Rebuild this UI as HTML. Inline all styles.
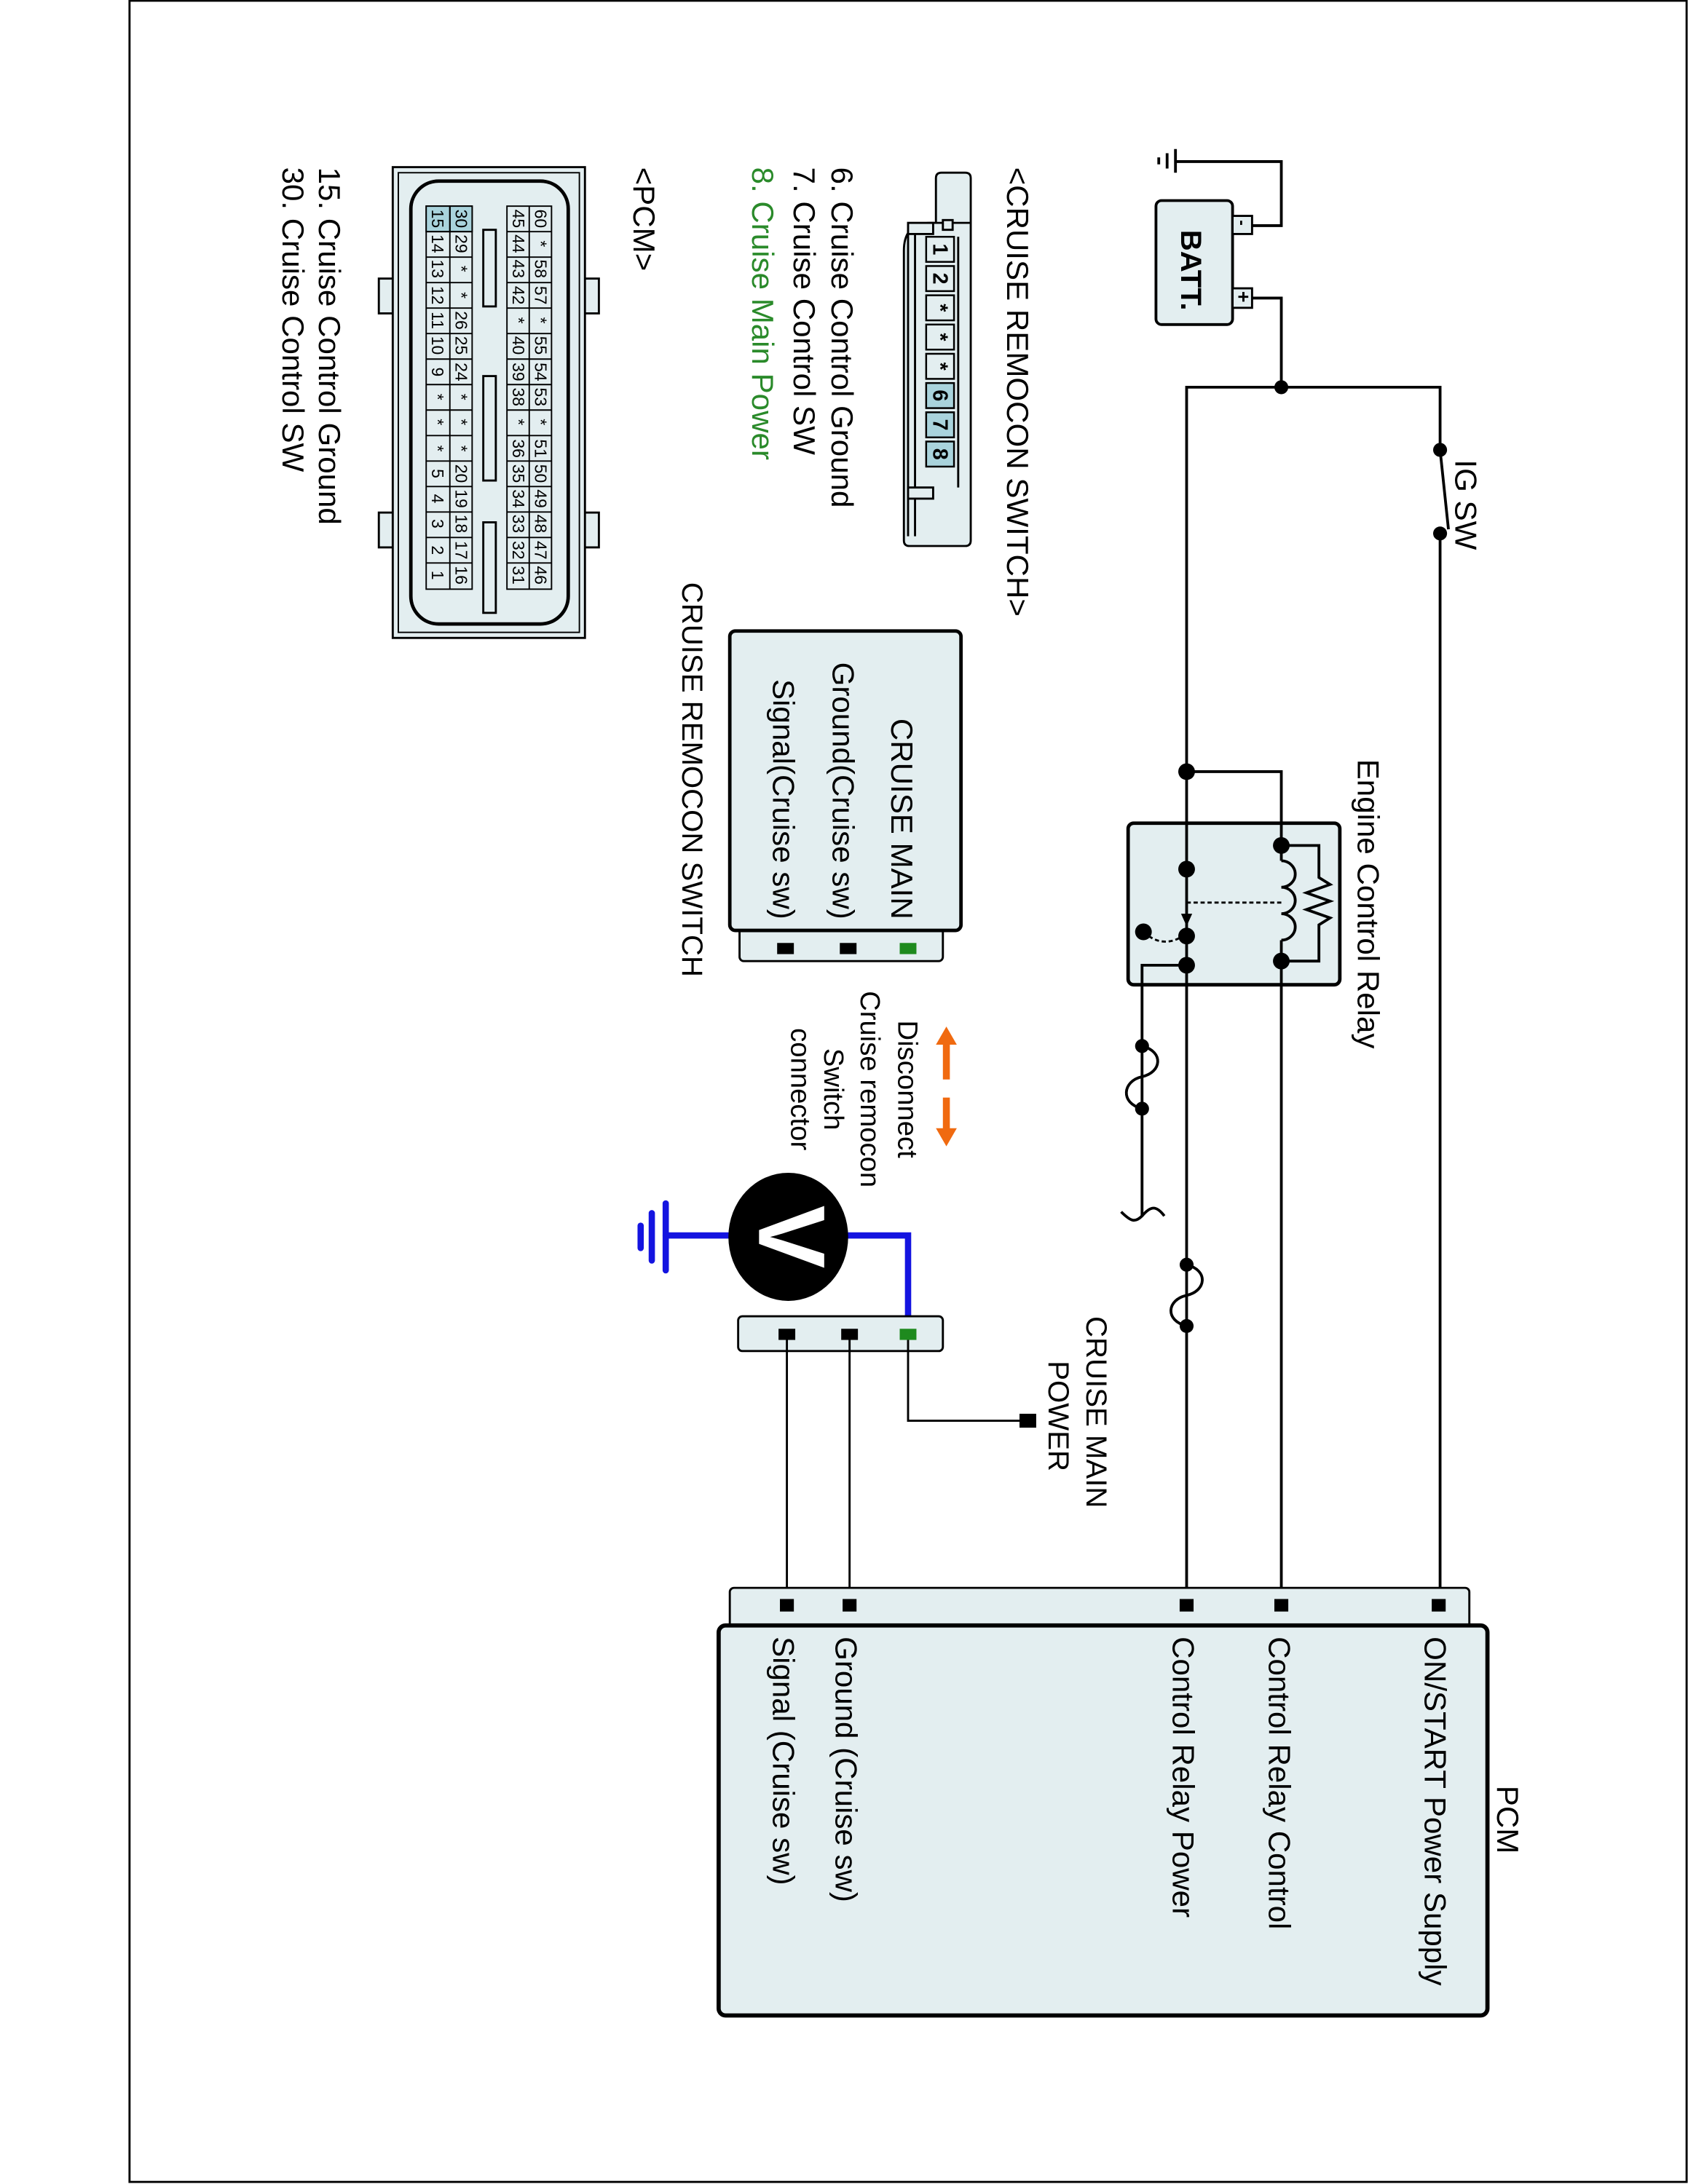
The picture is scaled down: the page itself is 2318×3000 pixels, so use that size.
<!DOCTYPE html>
<html><head><meta charset="utf-8"><style>
html,body{margin:0;padding:0;background:#fff}
svg{display:block}
text{font-family:"Liberation Sans",Arial,sans-serif;fill:#000}
</style></head><body>
<svg width="2318" height="3000" viewBox="0 0 1212 1568" preserveAspectRatio="none" xmlns="http://www.w3.org/2000/svg">
<rect x="0" y="0" width="1212" height="1568" fill="#fff"/>
<rect x="93" y="0.5" width="1118" height="1566" fill="none" stroke="#000" stroke-width="1.5"/>

<!-- Labels upper-left -->
<g font-size="22">
<text transform="translate(723,120) rotate(90)">&lt;CRUISE REMOCON SWITCH&gt;</text>
<text transform="translate(597,120) rotate(90)">6. Cruise Control Ground</text>
<text transform="translate(570,120) rotate(90)">7. Cruise Control SW</text>
<text transform="translate(540,120) rotate(90)" style="fill:#2a8a2a">8. Cruise Main Power</text>
<text transform="translate(455,120) rotate(90)">&lt;PCM&gt;</text>
<text transform="translate(229,120) rotate(90)">15. Cruise Control Ground</text>
<text transform="translate(203,120) rotate(90)">30. Cruise Control SW</text>
</g>

<!-- Cruise remocon connector -->
<g stroke="#000" stroke-width="1.5" fill="#e3eef0">
<path d="M697,128 L697,388 Q697,392 693,392 L653,392 Q649,392 649,388 L649,180 Q649,160 668,160 L672,160 L672,128 Q672,124 676,124 L693,124 Q697,124 697,128 Z"/>
<line x1="672" y1="160" x2="697" y2="160"/>
<line x1="652" y1="165" x2="652" y2="385" />
<line x1="657" y1="165" x2="657" y2="385" />
<rect x="652" y="160" width="18" height="8"/>
<rect x="652" y="350" width="18" height="8"/>
<rect x="677" y="158" width="7" height="7"/>
<line x1="688" y1="170" x2="688" y2="350"/>
</g>
<g stroke="#000" stroke-width="1.3">
<rect x="665" y="170" width="20" height="18" fill="#e3eef0"/>
<rect x="665" y="191" width="20" height="18" fill="#e3eef0"/>
<rect x="665" y="212" width="20" height="18" fill="#e3eef0"/>
<rect x="665" y="233" width="20" height="18" fill="#e3eef0"/>
<rect x="665" y="254" width="20" height="18" fill="#e3eef0"/>
<rect x="665" y="275" width="20" height="18" fill="#a9d3dc"/>
<rect x="665" y="296" width="20" height="18" fill="#a9d3dc"/>
<rect x="665" y="317" width="20" height="18" fill="#a9d3dc"/>
</g>
<g font-size="15" text-anchor="middle" font-weight="bold">
<text transform="translate(670,179) rotate(90)">1</text>
<text transform="translate(670,200) rotate(90)">2</text>
<text transform="translate(670,221) rotate(90)">*</text>
<text transform="translate(670,242) rotate(90)">*</text>
<text transform="translate(670,263) rotate(90)">*</text>
<text transform="translate(670,284) rotate(90)">6</text>
<text transform="translate(670,305) rotate(90)">7</text>
<text transform="translate(670,326) rotate(90)">8</text>
</g>

<!-- PCM connector -->
<g stroke="#000" stroke-width="1.5" fill="#e3eef0">
<rect x="272" y="200" width="12" height="25"/>
<rect x="272" y="368" width="12" height="25"/>
<rect x="418" y="200" width="12" height="25"/>
<rect x="418" y="368" width="12" height="25"/>
<rect x="282" y="120" width="138" height="338"/>
<rect x="286" y="124" width="130" height="330" fill="none" stroke-width="1"/>
<rect x="295" y="130" width="113" height="318" rx="20" stroke-width="2.5"/>
<rect x="347" y="165" width="9" height="55"/>
<rect x="347" y="270" width="9" height="75"/>
<rect x="347" y="375" width="9" height="65"/>
</g>

<!-- Battery & ground -->
<g stroke="#000" stroke-width="2" fill="none">
<line x1="844" y1="107" x2="844" y2="124"/>
<line x1="838" y1="110" x2="838" y2="121"/>
<line x1="832" y1="113" x2="832" y2="118"/>
<polyline points="844,116 920,116 920,162 899,162"/>
<polyline points="899,214 920,214 920,278"/>
</g>
<rect x="830" y="144" width="55" height="89" rx="4" fill="#e3eef0" stroke="#000" stroke-width="2"/>
<rect x="885" y="155" width="14" height="13" fill="#e3eef0" stroke="#000" stroke-width="1.5"/>
<rect x="885" y="207" width="14" height="14" fill="#e3eef0" stroke="#000" stroke-width="1.5"/>
<text transform="translate(888,158) rotate(90)" font-size="12" font-weight="bold">-</text>
<text transform="translate(888,209) rotate(90)" font-size="14" font-weight="bold">+</text>
<text transform="translate(848,165) rotate(90)" font-size="21" font-weight="bold">BATT.</text>

<!-- Relay box first so wires are on top -->
<rect x="810" y="591" width="152" height="116" rx="4" fill="#e3eef0" stroke="#000" stroke-width="2.5"/>

<g stroke="#000" stroke-width="2" fill="none">
<polyline points="852,1152 852,278 1034,278 1034,323"/>
<line x1="1034" y1="323" x2="1040" y2="380"/>
<line x1="1034" y1="383" x2="1034" y2="1152"/>
<polyline points="852,554 920,554 920,618"/>
<path d="M920,618 a10,9.5 0 0 1 0,19 a10,9.5 0 0 1 0,19 a10,9.5 0 0 1 0,19"/>
<line x1="920" y1="675" x2="920" y2="1152"/>
<polyline points="920,607 947,607 947,630 955,635 938,641 955,647 938,653 955,659 947,664 947,690 920,690"/>
<polyline points="852,693 820,693 820,873"/>
<path d="M820,751 C836,755 834,770 820,773 C806,776 804,792 820,796"/>
<path d="M805,870 C812,877 815,878 820,873 C826,866 830,865 836,873"/>
<path d="M852,908 C868,912 866,927 852,930 C838,933 836,948 852,952"/>
</g>
<line x1="852" y1="648" x2="920" y2="648" stroke="#000" stroke-width="1.5" stroke-dasharray="3,2"/>
<path d="M821,669 Q835,682 851,671" stroke="#000" stroke-width="1.5" stroke-dasharray="3,2" fill="none"/>
<path d="M848,656 L852,665 L856,656 Z" fill="#000"/>
<g fill="#000">
<circle cx="920" cy="278" r="5"/>
<circle cx="1034" cy="323" r="5"/>
<circle cx="1034" cy="383" r="5"/>
<circle cx="852" cy="554" r="6"/><circle cx="852" cy="624" r="6"/><circle cx="852" cy="672" r="6"/><circle cx="852" cy="693" r="6"/>
<circle cx="821" cy="669" r="6"/><circle cx="920" cy="607" r="6"/><circle cx="920" cy="690" r="6"/>
<circle cx="820" cy="751" r="5"/><circle cx="820" cy="796" r="5"/>
<circle cx="852" cy="908" r="5"/><circle cx="852" cy="952" r="5"/>
</g>
<text transform="translate(1045,330) rotate(90)" font-size="22">IG SW</text>
<text transform="translate(975,545) rotate(90)" font-size="22">Engine Control Relay</text>

<!-- Cruise remocon switch -->
<rect x="531" y="665" width="146" height="25" rx="3" fill="#e3eef0" stroke="#000" stroke-width="1.5"/>
<rect x="524" y="453" width="166" height="215" rx="4" fill="#e3eef0" stroke="#000" stroke-width="2.5"/>
<rect x="646" y="677" width="12" height="8" fill="#1e8a1e"/>
<rect x="603" y="677" width="12" height="8" fill="#000"/>
<rect x="558" y="677" width="12" height="8" fill="#000"/>
<g font-size="22" text-anchor="end">
<text transform="translate(640,660) rotate(90)">CRUISE MAIN</text>
<text transform="translate(598,660) rotate(90)">Ground(Cruise sw)</text>
<text transform="translate(555,660) rotate(90)">Signal(Cruise sw)</text>
</g>
<text transform="translate(490,418) rotate(90)" font-size="21">CRUISE REMOCON SWITCH</text>

<!-- Orange arrows -->
<g fill="#f06a10" stroke="none">
<rect x="677" y="748" width="5" height="27"/>
<path d="M672,750 L679.5,737 L687,750 Z"/>
<rect x="677" y="788" width="5" height="24"/>
<path d="M672,810 L679.5,823 L687,810 Z"/>
</g>
<g font-size="20" text-anchor="middle">
<text transform="translate(645,782) rotate(90)">Disconnect</text>
<text transform="translate(618,782) rotate(90)">Cruise remocon</text>
<text transform="translate(592,782) rotate(90)">Switch</text>
<text transform="translate(568,782) rotate(90)">connector</text>
</g>

<!-- Voltmeter -->
<g stroke="#1414e0" stroke-width="4.5" fill="none" stroke-linecap="round">
<polyline points="605,887 652,887 652,956"/>
<line x1="526" y1="887" x2="478" y2="887"/>
<line x1="478" y1="864" x2="478" y2="912"/>
<line x1="468" y1="871" x2="468" y2="905"/>
<line x1="460" y1="880" x2="460" y2="896"/>
</g>
<ellipse cx="566" cy="888" rx="43" ry="46" fill="#000"/>
<text transform="translate(545,888) rotate(90)" font-size="68" font-weight="bold" text-anchor="middle" style="fill:#fff">V</text>

<!-- lower connector -->
<rect x="530" y="945" width="147" height="25" rx="3" fill="#e3eef0" stroke="#000" stroke-width="1.5"/>
<g stroke="#000" stroke-width="1.5" fill="none">
<polyline points="652,958 652,1020 735,1020"/>
<line x1="610" y1="958" x2="610" y2="1152"/>
<line x1="565" y1="958" x2="565" y2="1152"/>
</g>
<rect x="646" y="954" width="12" height="8" fill="#1e8a1e"/>
<rect x="604" y="954" width="12" height="8" fill="#000"/>
<rect x="559" y="954" width="12" height="8" fill="#000"/>
<rect x="732" y="1015" width="12" height="10" fill="#000"/>
<g font-size="21">
<text transform="translate(780,945) rotate(90)">CRUISE MAIN</text>
<text transform="translate(753,977) rotate(90)">POWER</text>
</g>

<!-- PCM -->
<rect x="524" y="1140" width="531" height="30" rx="3" fill="#e3eef0" stroke="#000" stroke-width="1.5"/>
<rect x="516" y="1167" width="552" height="280" rx="5" fill="#e3eef0" stroke="#000" stroke-width="3"/>
<g fill="#000">
<rect x="1028" y="1148" width="10" height="9"/>
<rect x="915" y="1148" width="10" height="9"/>
<rect x="847" y="1148" width="10" height="9"/>
<rect x="605" y="1148" width="10" height="9"/>
<rect x="560" y="1148" width="10" height="9"/>
</g>
<g font-size="22">
<text transform="translate(1023,1175) rotate(90)">ON/START Power Supply</text>
<text transform="translate(911,1175) rotate(90)">Control Relay Control</text>
<text transform="translate(842,1175) rotate(90)">Control Relay Power</text>
<text transform="translate(600,1175) rotate(90)">Ground (Cruise sw)</text>
<text transform="translate(555,1175) rotate(90)">Signal (Cruise sw)</text>
<text transform="translate(1075,1282) rotate(90)">PCM</text>
</g>

<!-- PCM pin grid -->
<g stroke="#000" stroke-width="1">
<rect x="364" y="148" width="32" height="275" fill="#e3eef0"/>
<rect x="306" y="148" width="33" height="275" fill="#e3eef0"/>
<rect x="323" y="148" width="16" height="18.3" fill="#a9d3dc"/>
<rect x="306" y="148" width="17" height="18.3" fill="#a9d3dc"/>
<line x1="380" y1="148" x2="380" y2="423"/>
<line x1="323" y1="148" x2="323" y2="423"/>
<path d="M364,166.3h32M364,184.6h32M364,202.9h32M364,221.2h32M364,239.5h32M364,257.8h32M364,276.1h32M364,294.4h32M364,312.7h32M364,331h32M364,349.3h32M364,367.6h32M364,385.9h32M364,404.2h32"/>
<path d="M306,166.3h33M306,184.6h33M306,202.9h33M306,221.2h33M306,239.5h33M306,257.8h33M306,276.1h33M306,294.4h33M306,312.7h33M306,331h33M306,349.3h33M306,367.6h33M306,385.9h33M306,404.2h33"/>
</g>
<g font-size="12" text-anchor="middle">
<text transform="translate(384,157) rotate(90)">60</text><text transform="translate(384,175) rotate(90)">*</text><text transform="translate(384,193) rotate(90)">58</text><text transform="translate(384,212) rotate(90)">57</text><text transform="translate(384,230) rotate(90)">*</text><text transform="translate(384,248) rotate(90)">55</text><text transform="translate(384,267) rotate(90)">54</text><text transform="translate(384,285) rotate(90)">53</text><text transform="translate(384,303) rotate(90)">*</text><text transform="translate(384,322) rotate(90)">51</text><text transform="translate(384,340) rotate(90)">50</text><text transform="translate(384,358) rotate(90)">49</text><text transform="translate(384,376) rotate(90)">48</text><text transform="translate(384,395) rotate(90)">47</text><text transform="translate(384,413) rotate(90)">46</text>
<text transform="translate(368,157) rotate(90)">45</text><text transform="translate(368,175) rotate(90)">44</text><text transform="translate(368,193) rotate(90)">43</text><text transform="translate(368,212) rotate(90)">42</text><text transform="translate(368,230) rotate(90)">*</text><text transform="translate(368,248) rotate(90)">40</text><text transform="translate(368,267) rotate(90)">39</text><text transform="translate(368,285) rotate(90)">38</text><text transform="translate(368,303) rotate(90)">*</text><text transform="translate(368,322) rotate(90)">36</text><text transform="translate(368,340) rotate(90)">35</text><text transform="translate(368,358) rotate(90)">34</text><text transform="translate(368,376) rotate(90)">33</text><text transform="translate(368,395) rotate(90)">32</text><text transform="translate(368,413) rotate(90)">31</text>
<text transform="translate(327,157) rotate(90)">30</text><text transform="translate(327,175) rotate(90)">29</text><text transform="translate(327,193) rotate(90)">*</text><text transform="translate(327,212) rotate(90)">*</text><text transform="translate(327,230) rotate(90)">26</text><text transform="translate(327,248) rotate(90)">25</text><text transform="translate(327,267) rotate(90)">24</text><text transform="translate(327,285) rotate(90)">*</text><text transform="translate(327,303) rotate(90)">*</text><text transform="translate(327,322) rotate(90)">*</text><text transform="translate(327,340) rotate(90)">20</text><text transform="translate(327,358) rotate(90)">19</text><text transform="translate(327,376) rotate(90)">18</text><text transform="translate(327,395) rotate(90)">17</text><text transform="translate(327,413) rotate(90)">16</text>
<text transform="translate(310,157) rotate(90)">15</text><text transform="translate(310,175) rotate(90)">14</text><text transform="translate(310,193) rotate(90)">13</text><text transform="translate(310,212) rotate(90)">12</text><text transform="translate(310,230) rotate(90)">11</text><text transform="translate(310,248) rotate(90)">10</text><text transform="translate(310,267) rotate(90)">9</text><text transform="translate(310,285) rotate(90)">*</text><text transform="translate(310,303) rotate(90)">*</text><text transform="translate(310,322) rotate(90)">*</text><text transform="translate(310,340) rotate(90)">5</text><text transform="translate(310,358) rotate(90)">4</text><text transform="translate(310,376) rotate(90)">3</text><text transform="translate(310,395) rotate(90)">2</text><text transform="translate(310,413) rotate(90)">1</text>
</g>
</svg>
</body></html>
